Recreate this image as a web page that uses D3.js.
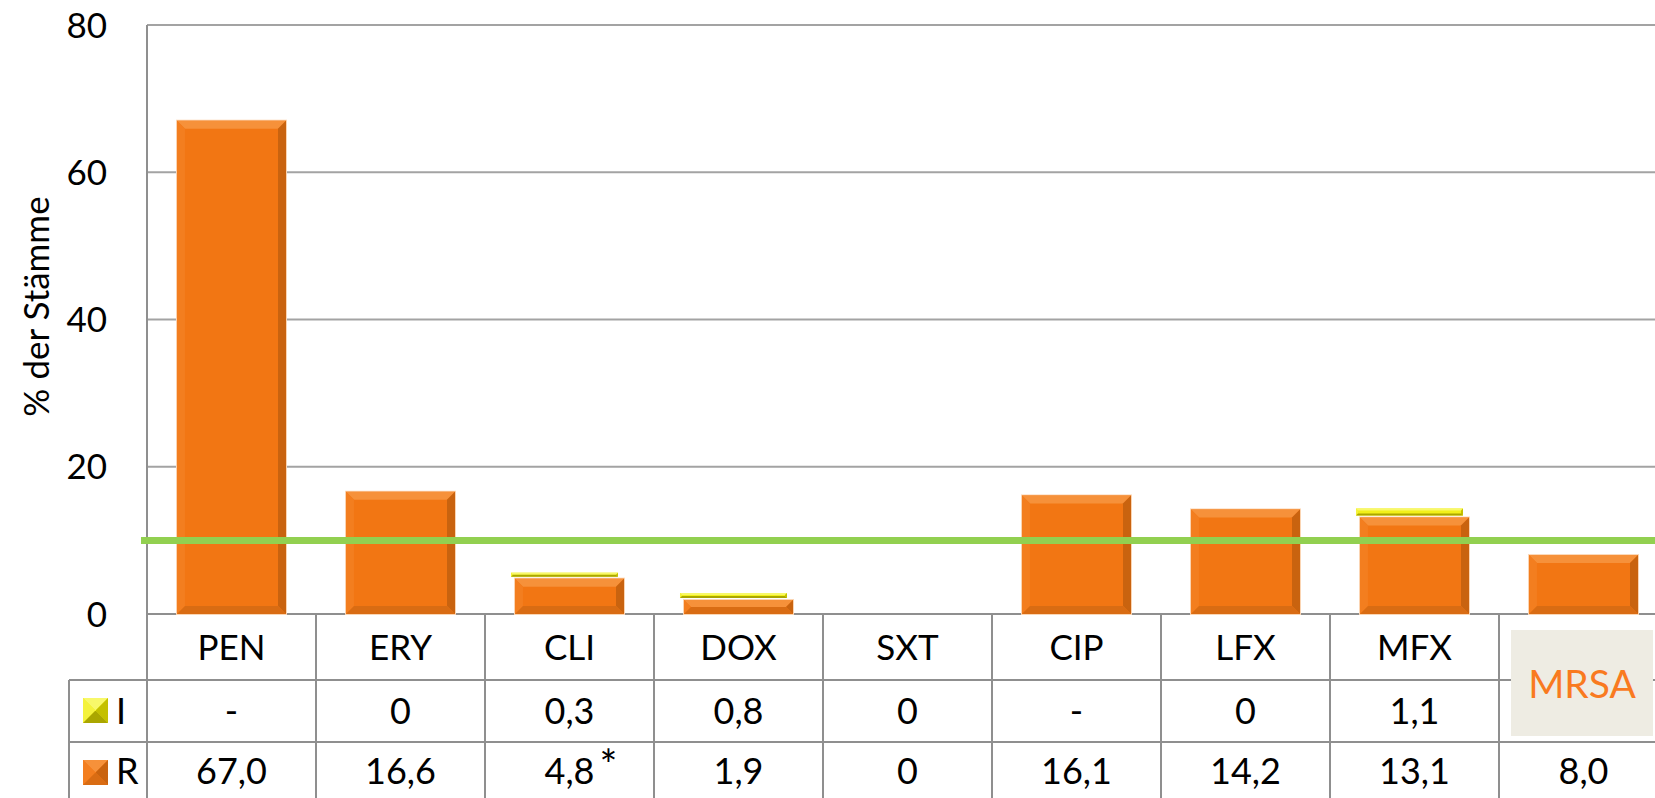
<!DOCTYPE html>
<html>
<head>
    <title>Resistenz</title>
    <script src="https://d3js.org/d3.v7.min.js"></script>
    <style>
        body { margin: 0; background: #fff; }
        text { font-family: Lato, "Open Sans", sans-serif; }
    </style>
</head>
<body>
    <script>
        //****DATA****
        const categories = ['PEN', 'ERY', 'CLI', 'DOX', 'SXT', 'CIP', 'LFX', 'MFX', 'MRSA'];
        const rValues = [67.0, 16.6, 4.8, 1.9, 0, 16.1, 14.2, 13.1, 8.0];
        const iValues = [null, 0, 0.3, 0.8, 0, null, 0, 1.1, null];
        const yTicks = [0, 20, 40, 60, 80];
        const threshold = 10;
        const markedCategory = 'CLI';   // gets the asterisk
        const boxedCategory = 'MRSA';

        //****CANVAS****
        const width = 1655;
        const height = 798;
        const plotLeft = 147;
        const plotRight = 1668;
        const plotTop = 25;
        const plotBottom = 614;
        const legendLeft = 69;
        const rowI = 680;
        const rowR = 742;

        const svg = d3.select('body')
            .append('svg')
            .attr('width', width)
            .attr('height', height);

        //****SCALES****
        const xScale = d3.scaleBand()
            .domain(categories)
            .range([plotLeft, plotRight])
            .paddingInner(0.355)
            .paddingOuter(0.1775);

        const colScale = d3.scaleBand()
            .domain(categories)
            .range([plotLeft, plotRight])
            .padding(0);

        const yScale = d3.scaleLinear()
            .domain([0, 80])
            .range([plotBottom, plotTop]);

        const fmt = v => v === null ? '-' : (v === 0 ? '0' : v.toFixed(1).replace('.', ','));

        //****GRID + AXIS****
        const gridColor = '#a3a3a3';
        svg.append('g')
            .selectAll('line')
            .data(yTicks.filter(d => d > 0))
            .enter()
            .append('line')
            .attr('x1', plotLeft)
            .attr('x2', width)
            .attr('y1', d => yScale(d))
            .attr('y2', d => yScale(d))
            .attr('stroke', gridColor)
            .attr('stroke-width', 2);

        svg.append('g')
            .selectAll('text')
            .data(yTicks)
            .enter()
            .append('text')
            .attr('x', plotLeft - 40)
            .attr('y', d => yScale(d))
            .attr('dy', '0.36em')
            .attr('text-anchor', 'end')
            .style('font-size', '35px')
            .text(d => d);

        // y axis title
        svg.append('text')
            .attr('transform', `translate(36, ${yScale(40) - 13}) rotate(-90)`)
            .attr('text-anchor', 'middle')
            .attr('dy', '0.36em')
            .style('font-size', '35px')
            .text('% der Stämme');

        //****TABLE LINES****
        const lineColor = '#8f8f8f';
        const tableLines = svg.append('g').attr('stroke', lineColor).attr('stroke-width', 2);

        tableLines.append('line')
            .attr('x1', plotLeft).attr('x2', width)
            .attr('y1', yScale(0)).attr('y2', yScale(0));
        [rowI, rowR].forEach(y => {
            tableLines.append('line')
                .attr('x1', legendLeft).attr('x2', width)
                .attr('y1', y).attr('y2', y);
        });
        tableLines.append('line')
            .attr('x1', legendLeft).attr('x2', legendLeft)
            .attr('y1', rowI).attr('y2', height);
        tableLines.append('line')
            .attr('x1', plotLeft).attr('x2', plotLeft)
            .attr('y1', plotTop).attr('y2', height);
        tableLines.selectAll('.col')
            .data(categories.slice(1))
            .enter()
            .append('line')
            .attr('class', 'col')
            .attr('x1', d => colScale(d)).attr('x2', d => colScale(d))
            .attr('y1', yScale(0)).attr('y2', height);

        //****BEVELLED RECT HELPER****
        function bevelRect(g, x, y, w, h, b, c) {
            b = Math.min(b, h / 2, w / 2);
            const grp = g.append('g');
            grp.append('rect').attr('x', x).attr('y', y).attr('width', w).attr('height', h).attr('fill', c.main);
            const poly = (pts, fill) => grp.append('polygon')
                .attr('points', pts.map(p => p.join(',')).join(' '))
                .attr('fill', fill);
            poly([[x, y], [x + w, y], [x + w - b, y + b], [x + b, y + b]], c.top);
            poly([[x, y], [x + b, y + b], [x + b, y + h - b], [x, y + h]], c.left);
            poly([[x + w, y], [x + w, y + h], [x + w - b, y + h - b], [x + w - b, y + b]], c.right);
            poly([[x, y + h], [x + b, y + h - b], [x + w - b, y + h - b], [x + w, y + h]], c.bottom);
            return grp;
        }

        const orange = { main: '#f27613', top: '#f6913a', left: '#f37e1f', right: '#c9630f', bottom: '#d96c13' };
        const yellow = { main: '#f2f01a', top: '#f8f86a', left: '#f4f23c', right: '#c4c000', bottom: '#aaa600' };

        //****BARS****
        const bars = svg.append('g');
        categories.forEach((c, i) => {
            const r = rValues[i];
            if (r > 0) {
                const yTop = yScale(r);
                bars.append('rect')
                    .attr('x', xScale(c) - 1).attr('y', yTop - 1)
                    .attr('width', xScale.bandwidth() + 2).attr('height', yScale(0) - yTop + 2)
                    .attr('fill', '#fbd6b4');
                bevelRect(bars, xScale(c), yTop, xScale.bandwidth(), yScale(0) - yTop, 8, orange);
            }
            const v = iValues[i];
            if (v) {
                const y1 = yScale(r + v) - 1;
                const y2 = yScale(r) - 2;
                const h = Math.max(4, y2 - y1);
                bevelRect(bars, xScale(c) - 4, y2 - h, xScale.bandwidth() - 2, h, 2, yellow);
            }
        });

        // threshold line
        svg.append('line')
            .attr('x1', plotLeft - 6).attr('x2', width)
            .attr('y1', yScale(threshold)).attr('y2', yScale(threshold))
            .attr('stroke', '#92d050')
            .attr('stroke-width', 7);

        //****TABLE TEXT****
        const colMid = c => colScale(c) + colScale.bandwidth() / 2;
        svg.append('g')
            .selectAll('text')
            .data(categories.filter(c => c !== boxedCategory))
            .enter()
            .append('text')
            .attr('x', colMid)
            .attr('y', (yScale(0) + rowI) / 2)
            .attr('dy', '0.36em')
            .attr('text-anchor', 'middle')
            .style('font-size', '35px')
            .text(d => d);

        svg.append('g')
            .selectAll('text')
            .data(categories.filter(c => c !== boxedCategory))
            .enter()
            .append('text')
            .attr('x', colMid)
            .attr('y', (rowI + rowR) / 2)
            .attr('dy', '0.36em')
            .attr('text-anchor', 'middle')
            .style('font-size', '36px')
            .text(d => fmt(iValues[categories.indexOf(d)]));

        svg.append('g')
            .selectAll('text')
            .data(categories)
            .enter()
            .append('text')
            .attr('x', colMid)
            .attr('y', rowR + 29)
            .attr('dy', '0.36em')
            .attr('text-anchor', 'middle')
            .style('font-size', '36px')
            .text((d, i) => fmt(rValues[i]));

        svg.append('text')
            .attr('x', colMid(markedCategory) + 30)
            .attr('y', rowR + 38)
            .style('font-size', '42px')
            .text('*');

        // legend keys
        bevelRect(svg, 83, 698, 25, 25, 12, yellow);
        bevelRect(svg, 83, 760, 25, 25, 12, orange);
        svg.append('text').attr('x', 116).attr('y', (rowI + rowR) / 2).attr('dy', '0.36em')
            .style('font-size', '36px').text('I');
        svg.append('text').attr('x', 116).attr('y', rowR + 29).attr('dy', '0.36em')
            .style('font-size', '36px').text('R');

        //****MRSA LABEL BOX****
        const bx = colScale(boxedCategory) + 12;
        svg.append('rect')
            .attr('x', bx).attr('y', 630)
            .attr('width', 142).attr('height', 106)
            .attr('fill', '#eeece3');
        svg.append('text')
            .attr('x', bx + 71).attr('y', 684)
            .attr('dy', '0.36em')
            .attr('text-anchor', 'middle')
            .style('font-size', '39px')
            .style('fill', '#f97a1f')
            .text(boxedCategory);
    </script>
</body>
</html>
